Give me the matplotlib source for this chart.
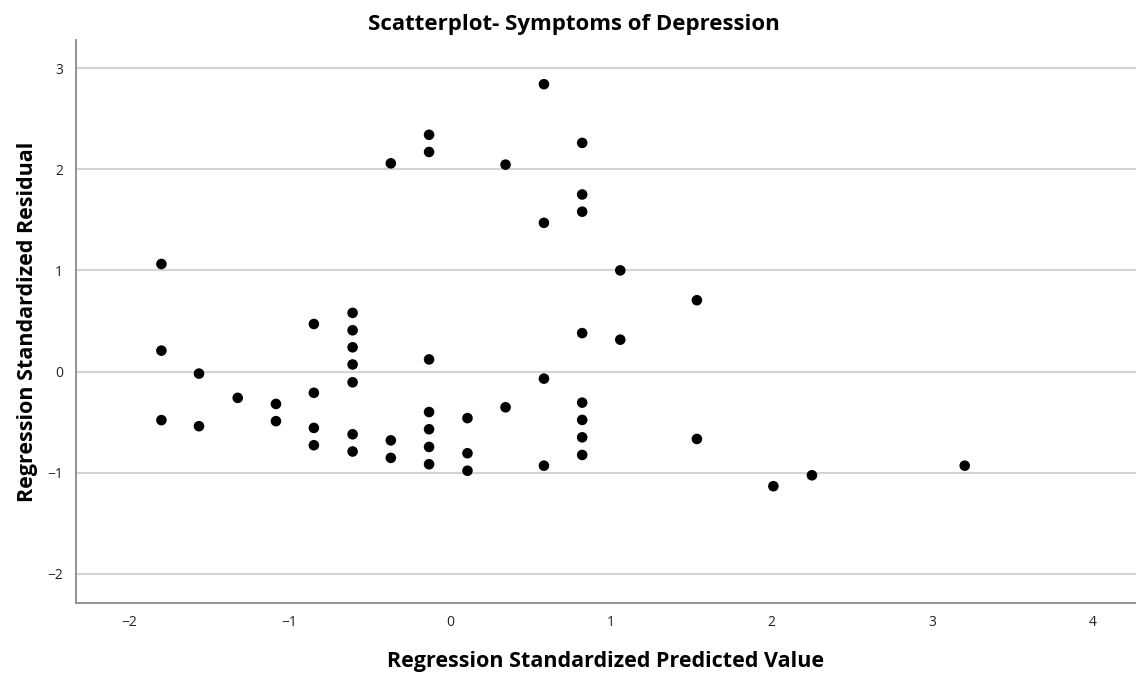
import matplotlib.pyplot as plt

# Standardized predicted values (x) and standardized residuals (y)
pred = [-1.798, -1.798, -1.798,
        -1.564, -1.564,
        -1.323,
        -1.085, -1.085,
        -0.849, -0.849, -0.849, -0.849,
        -0.608, -0.608, -0.608, -0.608, -0.608, -0.608, -0.608,
        -0.370, -0.370, -0.370,
        -0.132, -0.132, -0.132, -0.132, -0.132, -0.132, -0.132,
        0.107, 0.107, 0.107,
        0.344, 0.344,
        0.583, 0.583, 0.583, 0.583,
        0.821, 0.821, 0.821, 0.821, 0.821, 0.821, 0.821, 0.821,
        1.058, 1.058,
        1.535, 1.535,
        2.011, 2.251, 3.202]
resid = [1.063, 0.207, -0.48,
         -0.02, -0.54,
         -0.26,
         -0.32, -0.49,
         0.47, -0.21, -0.557, -0.728,
         0.58, 0.408, 0.24, 0.07, -0.106, -0.62, -0.79,
         2.058, -0.68, -0.853,
         2.34, 2.17, 0.12, -0.40, -0.57, -0.745, -0.916,
         -0.46, -0.807, -0.98,
         2.045, -0.353,
         2.84, 1.47, -0.07, -0.93,
         2.26, 1.75, 1.58, 0.38, -0.307, -0.478, -0.65, -0.824,
         1.0, 0.315,
         0.705, -0.666,
         -1.133, -1.025, -0.93]

x_ticks = [-2, -1, 0, 1, 2, 3, 4]
y_ticks = [-2, -1, 0, 1, 2, 3]

plt.rcParams['font.family'] = ['Open Sans', 'DejaVu Sans']

fig = plt.figure(figsize=(11.36, 6.73), dpi=100)
ax = fig.add_axes([0.0667, 0.1045, 0.9333, 0.8361])

ax.scatter(pred, resid, s=58, color='black', edgecolors='none', zorder=3)

ax.set_xlim(-2.331, 4.268)
ax.set_ylim(-2.284, 3.277)
ax.set_xticks(x_ticks)
ax.set_yticks(y_ticks)
ax.tick_params(length=0, labelsize=10, colors='#222222')
ax.tick_params(axis='x', pad=9)
ax.tick_params(axis='y', pad=9)

ax.yaxis.grid(True, color='#d4d4d4', linewidth=1.5)
ax.set_axisbelow(True)

for side in ['top', 'right']:
    ax.spines[side].set_visible(False)
for side in ['left', 'bottom']:
    ax.spines[side].set_color('#8a8a8a')
    ax.spines[side].set_linewidth(1.3)

# title sits centred on the figure rather than the axes
fig.text(0.505, 0.964, 'Scatterplot- Symptoms of Depression', fontsize=16,
         fontweight='bold', ha='center', va='center')
ax.set_xlabel('Regression Standardized Predicted Value', fontsize=15.5,
              fontweight='bold', labelpad=15)
ax.set_ylabel('Regression Standardized Residual', fontsize=15.5,
              fontweight='bold', labelpad=7)

fig.savefig('out.png', dpi=100)
